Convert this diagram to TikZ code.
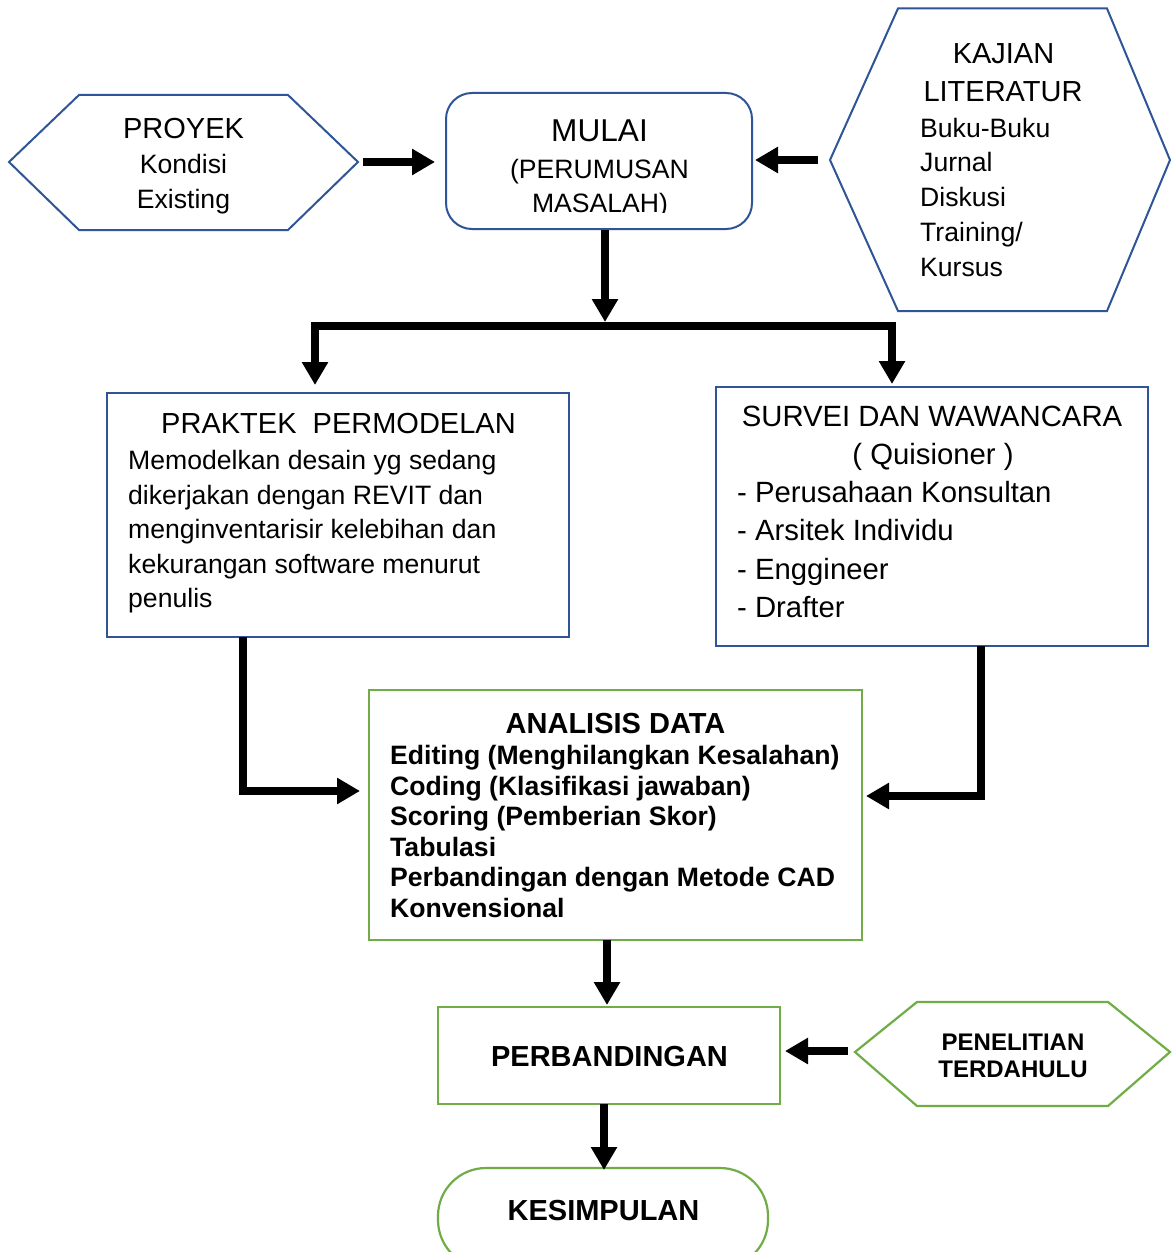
\documentclass[tikz,border=0pt]{standalone}
\usepackage{fontspec}
\setmainfont{Liberation Sans}
\usetikzlibrary{arrows.meta,calc}
\definecolor{bdblue}{HTML}{2F5597}
\definecolor{bdgreen}{HTML}{70AD47}
\tikzset{
  bluebd/.style={draw=bdblue, line width=2pt},
  greenbd/.style={draw=bdgreen, line width=2.2pt},
  boxnode/.style={rectangle, inner sep=0pt, outer sep=0pt},
  flow/.style={line width=8pt, line join=miter, -{Triangle[length=23pt,width=25pt]}},
  ctext/.style={inner sep=0pt, anchor=base},
  ltext/.style={inner sep=0pt, anchor=base west},
  tA/.style={font=\fontsize{29}{34}\selectfont},
  tB/.style={font=\fontsize{26.6}{32}\selectfont},
  tM/.style={font=\fontsize{31.6}{36}\selectfont},
  tS/.style={font=\fontsize{29.3}{35}\selectfont},
  bA/.style={font=\bfseries\fontsize{29}{34}\selectfont},
  bB/.style={font=\bfseries\fontsize{26.6}{31}\selectfont},
  bC/.style={font=\bfseries\fontsize{24}{28}\selectfont},
}
\begin{document}
\begin{tikzpicture}[x=1pt,y=-1pt]
\useasboundingbox[fill=white] (0,0) rectangle (1171,1252);

% ---------- PROYEK (hexagon) ----------
\coordinate (proyekL) at (9,162);
\coordinate (proyekR) at (358,162);
\draw[bluebd, line join=miter] (proyekL) -- (79,95) -- (288,95) -- (proyekR) -- (288,230) -- (79,230) -- cycle;
\node[ctext, tA] (proyekT1) at (183.5,138.5) {PROYEK};
\node[ctext, tB] (proyekT2) at (183.5,173.8) {Kondisi};
\node[ctext, tB] (proyekT3) at (183.5,208.5) {Existing};

% ---------- MULAI (rounded box) ----------
\node[boxnode, bluebd, rounded corners=26pt, minimum width=306pt, minimum height=136pt] (mulai) at (599,161) {};
\node[ctext, tM] (mulaiT1) at (599.5,141.7) {MULAI};
\node[ctext, tB] (mulaiT2) at (599.5,178.5) {(PERUMUSAN};
\begin{scope}
  \clip (446,190) rectangle (752,212.5);
  \node[ctext, tB] (mulaiT3) at (600,212) {MASALAH)};
\end{scope}

% ---------- KAJIAN LITERATUR (hexagon) ----------
\coordinate (kajianL) at (830,160);
\draw[bluebd, line join=miter] (kajianL) -- (898,8.5) -- (1107,8.5) -- (1170,160) -- (1107,311) -- (898,311) -- cycle;
\node[ctext, tA] (kajianT1) at (1003.5,64) {KAJIAN};
\node[ctext, tA] (kajianT2) at (1003,101.7) {LITERATUR};
\node[ltext, tB] (kajianT3) at (920,137.3) {Buku-Buku};
\node[ltext, tB] (kajianT4) at (920,172) {Jurnal};
\node[ltext, tB] (kajianT5) at (920,207) {Diskusi};
\node[ltext, tB] (kajianT6) at (920,241.8) {Training/};
\node[ltext, tB] (kajianT7) at (920,276.7) {Kursus};

% ---------- PRAKTEK PERMODELAN ----------
\node[boxnode, bluebd, minimum width=462pt, minimum height=244pt] (praktek) at (338,515) {};
\node[ctext, tA] (praktekT0) at (338.5,433) {PRAKTEK\ \ PERMODELAN};
\node[ltext, tB] (praktekT1) at (128,469.5) {Memodelkan desain yg sedang};
\node[ltext, tB] (praktekT2) at (128,504) {dikerjakan dengan REVIT dan};
\node[ltext, tB] (praktekT3) at (128,538.5) {menginventarisir kelebihan dan};
\node[ltext, tB] (praktekT4) at (128,573) {kekurangan software menurut};
\node[ltext, tB] (praktekT5) at (128,607.5) {penulis};

% ---------- SURVEI DAN WAWANCARA ----------
\node[boxnode, bluebd, minimum width=432pt, minimum height=259pt] (survei) at (932,516.5) {};
\node[ctext, tS] (surveiT0) at (932,426) {SURVEI DAN WAWANCARA};
\node[ctext, tS] (surveiT1) at (933,464) {( Quisioner )};
\node[ltext, tS] (surveiT2) at (737,502) {- Perusahaan Konsultan};
\node[ltext, tS] (surveiT3) at (737,540.5) {- Arsitek Individu};
\node[ltext, tS] (surveiT4) at (737,579) {- Enggineer};
\node[ltext, tS] (surveiT5) at (737,617) {- Drafter};

% ---------- ANALISIS DATA ----------
\node[boxnode, greenbd, minimum width=493pt, minimum height=250pt] (analisis) at (615.5,815) {};
\node[ctext, bA] (analisisT0) at (615.5,733.5) {ANALISIS DATA};
\node[ltext, bB] (analisisT1) at (390,764.5) {Editing (Menghilangkan Kesalahan)};
\node[ltext, bB] (analisisT2) at (390,795.1) {Coding (Klasifikasi jawaban)};
\node[ltext, bB] (analisisT3) at (390,825.7) {Scoring (Pemberian Skor)};
\node[ltext, bB] (analisisT4) at (390,856.3) {Tabulasi};
\node[ltext, bB] (analisisT5) at (390,886.9) {Perbandingan dengan Metode CAD};
\node[ltext, bB] (analisisT6) at (390,917.5) {Konvensional};

% ---------- PERBANDINGAN ----------
\node[boxnode, greenbd, minimum width=342pt, minimum height=97pt] (perb) at (609,1055.5) {};
\node[ctext, bA] (perbT) at (609.5,1066) {PERBANDINGAN};

% ---------- PENELITIAN TERDAHULU (hexagon) ----------
\coordinate (penL) at (855,1052);
\draw[greenbd, line join=miter] (penL) -- (917,1002) -- (1108,1002) -- (1170,1052) -- (1108,1106) -- (917,1106) -- cycle;
\node[ctext, bC] (penT1) at (1013,1050.5) {PENELITIAN};
\node[ctext, bC] (penT2) at (1013,1077) {TERDAHULU};

% ---------- KESIMPULAN (terminator) ----------
\node[boxnode, greenbd, rounded corners=48pt, minimum width=330pt, minimum height=100pt] (kes) at (603,1218) {};
\node[ctext, bA] (kesT) at (603.5,1220) {KESIMPULAN};

% ---------- connectors ----------
\coordinate (hub) at (605,326);
\coordinate (pin) at (315,385);
\coordinate (sin) at (892,384);

\draw[flow] ($(proyekR)+(5,0)$) -- ($(mulai.west)+(-11,1)$);
\draw[flow] ($(kajianL)+(-12,0)$) -- ($(mulai.east)+(3,-1)$);
\draw[flow] ($(mulai.south)+(6,1)$) -- ($(hub)+(0,-4)$);
\draw[flow] (hub) -| (pin);
\draw[flow] (hub) -| (sin);
\draw[flow] ($(praktek.south)+(-95,0)$) |- ($(analisis.west)+(-9,-24)$);
\draw[flow] ($(survei.south)+(49,0)$) |- ($(analisis.east)+(4,-19)$);
\draw[flow] ($(analisis.south)+(-8.5,0)$) -- ($(perb.north)+(-2,-2)$);
\draw[flow] ($(perb.south)+(-5,0)$) -- ($(kes.north)+(1,2)$);
\draw[flow] ($(penL)+(-7,-1)$) -- ($(perb.east)+(5,-4.5)$);
\end{tikzpicture}
\end{document}
